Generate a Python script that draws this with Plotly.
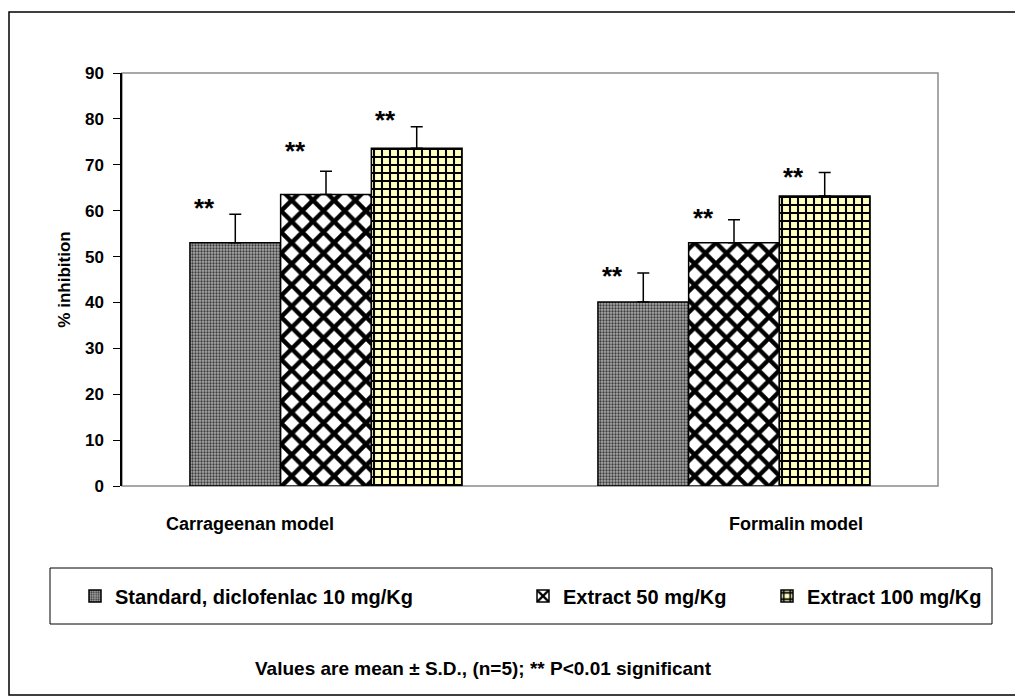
import plotly.graph_objects as go

# ---------------- data ----------------
categories = ["Carrageenan model", "Formalin model"]
series_names = ["Standard, diclofenlac 10 mg/Kg", "Extract 50 mg/Kg", "Extract 100 mg/Kg"]
standard = [53.0, 40.1]
standard_sd = [6.2, 6.3]
extract50 = [63.5, 53.0]
extract50_sd = [5.1, 5.0]
extract100 = [73.6, 63.2]
extract100_sd = [4.7, 5.1]
# height (in % inhibition units) at which the "**" marks sit
star_level_standard = [61.2, 46.4]
star_level_extract50 = [73.6, 59.0]
star_level_extract100 = [80.4, 68.1]
star_text = "**"
y_ticks = [0, 10, 20, 30, 40, 50, 60, 70, 80, 90]
y_title = "% inhibition"
footnote = "Values are mean \u00b1 S.D., (n=5); ** P<0.01 significant"

# ---------------- geometry ----------------
OFF = 8                      # page body margin of the browser
W, H = 1023 - OFF, 698 - OFF
L, R, T, B = 122 - OFF, 85, 73 - OFF, 212
PW, PH = W - L - R, H - T - B


def px(xref):
    """reference-picture x pixel -> paper coordinate"""
    return (xref - OFF - L) / PW


def py(yref):
    """reference-picture y pixel -> paper coordinate"""
    return (H - B - (yref - OFF)) / PH


FONT = "Liberation Sans, Arial, sans-serif"

patterns = [
    dict(shape=".", fgcolor="#3c3c3c", bgcolor="#aaaaaa", size=3, solidity=0.45, fgopacity=1),
    dict(shape="x", fgcolor="#000000", bgcolor="#ffffff", size=15, solidity=0.5, fgopacity=1),
    dict(shape="+", fgcolor="#000000", bgcolor="#ffffc0", size=8, solidity=0.45, fgopacity=1),
]
values = [standard, extract50, extract100]
sds = [standard_sd, extract50_sd, extract100_sd]
stars = [star_level_standard, star_level_extract50, star_level_extract100]
legend_ids = ["legend", "legend2", "legend3"]

fig = go.Figure()
for i in range(3):
    fig.add_trace(go.Bar(
        x=categories,
        y=values[i],
        name=series_names[i],
        legend=legend_ids[i],
        marker=dict(color=patterns[i]["bgcolor"], pattern=patterns[i],
                    line=dict(color="black", width=1.5)),
        error_y=dict(type="data", array=sds[i], symmetric=False,
                     arrayminus=[0] * len(sds[i]),
                     color="black", thickness=1.5, width=6),
    ))

bargap = 0.333
bw = (1 - bargap) / 3
annotations = []
for i in range(3):
    for j in range(len(categories)):
        annotations.append(dict(
            x=j + (i - 1) * bw, y=stars[i][j], xref="x", yref="y",
            text=star_text, showarrow=False, xshift=-31, yshift=-3,
            yanchor="middle", xanchor="center",
            font=dict(family=FONT, size=26, color="black", weight="bold"),
        ))

# category labels
cat_shift = [-76, 62]
for j, c in enumerate(categories):
    annotations.append(dict(
        x=j, y=py(524), xref="x", yref="paper", text="<b>%s</b>" % c,
        showarrow=False, xshift=cat_shift[j], yanchor="middle",
        font=dict(family=FONT, size=18, color="black"),
    ))

annotations.append(dict(
    x=px(483), y=py(668), xref="paper", yref="paper", text="<b>%s</b>" % footnote,
    showarrow=False, xanchor="center", yanchor="middle",
    font=dict(family=FONT, size=19, color="black"),
))

shapes = [
    # outer frame
    dict(type="rect", xref="paper", yref="paper", x0=px(9), x1=px(1020), y0=py(695), y1=py(12),
         line=dict(color="black", width=1.5), layer="below"),
    # plot area border
    dict(type="rect", xref="paper", yref="paper", x0=0, x1=1, y0=0, y1=1,
         line=dict(color="#8c8c8c", width=1.5), layer="below"),
    # legend box
    dict(type="rect", xref="paper", yref="paper", x0=px(50), x1=px(992), y0=py(624), y1=py(568),
         line=dict(color="black", width=1), layer="below"),
]

legend_x = [75, 523, 767]
leg_common = dict(orientation="h", yanchor="middle", xanchor="left", bgcolor="rgba(0,0,0,0)",
                  borderwidth=0, font=dict(family=FONT, size=20, color="black", weight="bold"),
                  itemwidth=30)
layout_legends = {}
for i, lid in enumerate(legend_ids):
    layout_legends[lid] = dict(x=px(legend_x[i]), y=py(596), **leg_common)

fig.update_layout(
    width=W, height=H,
    margin=dict(l=L, r=R, t=T, b=B, pad=0),
    paper_bgcolor="white", plot_bgcolor="white",
    barmode="group", bargap=bargap, bargroupgap=0,
    showlegend=True,
    annotations=annotations,
    shapes=shapes,
    xaxis=dict(type="category", showticklabels=False, ticks="", showgrid=False,
               showline=False, zeroline=False, range=[-0.5, 1.5]),
    yaxis=dict(range=[0, 90], tickvals=y_ticks, ticks="outside", ticklen=7,
               ticklabelstandoff=6,
               tickcolor="black", tickwidth=1, showline=True, linecolor="black",
               linewidth=1.5, showgrid=False, zeroline=False,
               tickfont=dict(family=FONT, size=17, color="black", weight="bold"),
               title=dict(text=y_title, standoff=10,
                          font=dict(family=FONT, size=17, color="black", weight="bold"))),
    **layout_legends,
)

fig.write_html("out.html")
